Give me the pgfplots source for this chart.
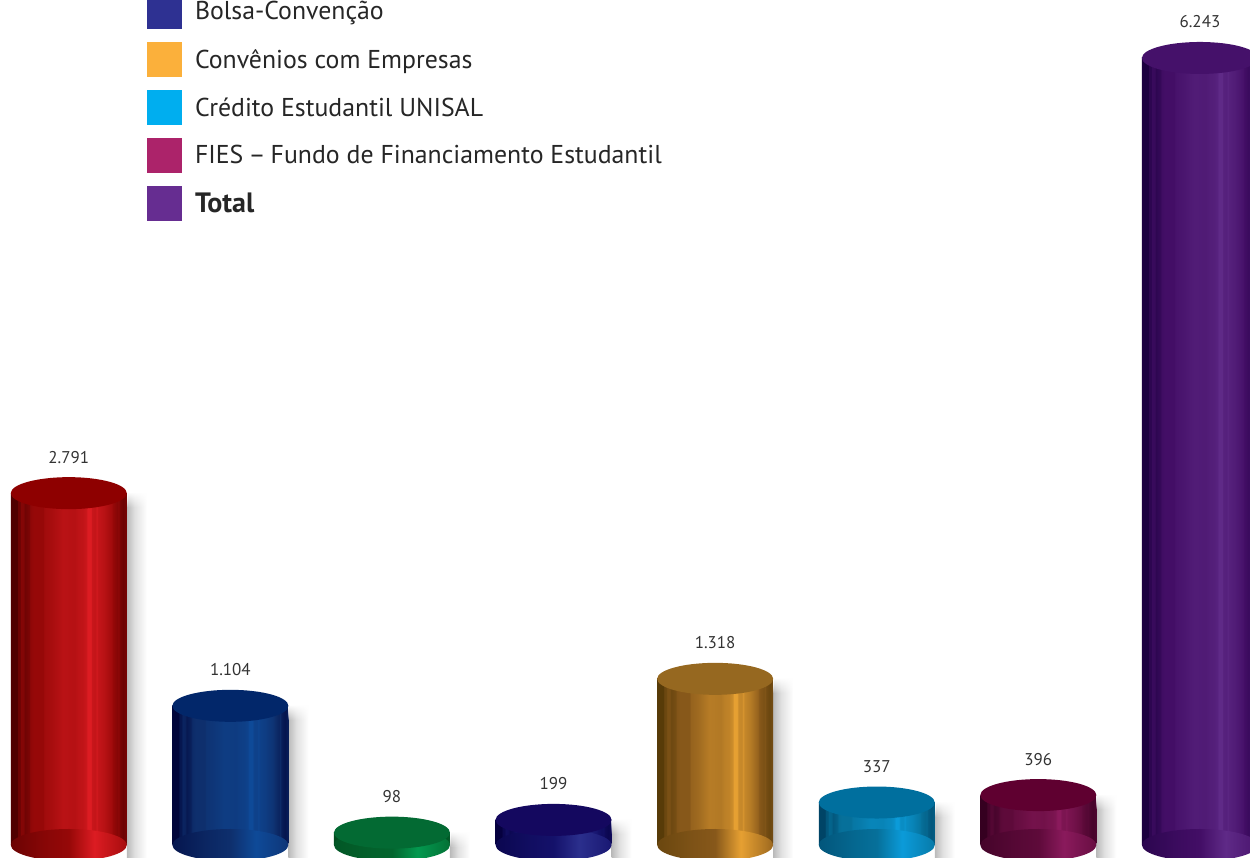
\documentclass[border=0pt]{standalone}
\usepackage{fontspec}
\setmainfont{PT Sans}
\usepackage{pgfplots}
\usetikzlibrary{fadings}
\pgfplotsset{compat=1.18}

% one shading family per cylinder: streaked side, smooth base, flat top
\newcommand{\cylfamily}[5]{%
  \definecolor{#1T}{HTML}{#2}\definecolor{#1D}{HTML}{#3}\definecolor{#1M}{HTML}{#4}\definecolor{#1B}{HTML}{#5}%
  \pgfdeclarehorizontalshading{#1body}{100bp}{
    color(0bp)=(#1D); color(25bp)=(#1D); color(27.7bp)=(#1D);
    color(28bp)=(#1D!60!#1M); color(29bp)=(#1D!55!#1M); color(29.3bp)=(#1D!25!#1M); color(30.5bp)=(#1D!30!#1M);
    color(31bp)=(#1D!55!#1M); color(33bp)=(#1D!35!#1M); color(33.4bp)=(#1D!10!#1M);
    color(35bp)=(#1M); color(39bp)=(#1M); color(39.4bp)=(#1M!85!#1B); color(42.5bp)=(#1M!75!#1B);
    color(47.5bp)=(#1M!50!#1B); color(52.5bp)=(#1M!55!#1B); color(54bp)=(#1M!45!#1B); color(56bp)=(#1M!40!#1B);
    color(57.6bp)=(#1M!25!#1B); color(58bp)=(#1B); color(59.5bp)=(#1B); color(60bp)=(#1M!30!#1B); color(61.5bp)=(#1M!35!#1B);
    color(62bp)=(#1M!15!#1B); color(62.6bp)=(#1M!35!#1B);
    color(65bp)=(#1M!50!#1B); color(68.5bp)=(#1M!85!#1B); color(69bp)=(#1M); color(71bp)=(#1M!75!#1D);
    color(71.4bp)=(#1M!90!#1D); color(72bp)=(#1M!60!#1D);
    color(73.5bp)=(#1D!60!#1M); color(75bp)=(#1D!40!#1M); color(100bp)=(#1D!40!#1M)}%
  \pgfdeclarehorizontalshading{#1base}{100bp}{
    color(0bp)=(#1D!60!#1M); color(25bp)=(#1D!60!#1M); color(40bp)=(#1M!80!#1D);
    color(50bp)=(#1M); color(61bp)=(#1B); color(72bp)=(#1M!60!#1B); color(75bp)=(#1M!80!#1B); color(100bp)=(#1M!80!#1B)}%
  \pgfdeclareplotmark{#1basemark}{%
    \pgfpathellipse{\pgfpointorigin}{\pgfqpoint{58pt}{0pt}}{\pgfqpoint{0pt}{16pt}}%
    \pgfshadepath{#1base}{0}\pgfusepath{discard}}%
}
\cylfamily{red}{8E0000}{500000}{960808}{DC1C22}
\cylfamily{blu}{02276A}{00053A}{0E2F6D}{0E4A98}
\cylfamily{grn}{036A33}{024D20}{03652E}{03994F}
\cylfamily{nav}{14085F}{05003F}{14116A}{2B2F8D}
\cylfamily{gld}{966820}{573B08}{87581A}{E6A032}
\cylfamily{cyn}{006F9E}{004466}{06709A}{0B9BD9}
\cylfamily{mag}{5F0030}{350020}{5E0A3A}{8A1A5C}
\cylfamily{pur}{45116A}{1C0040}{430E66}{5F2A87}

\pgfdeclarehorizontalshading{cylshadow}{100bp}{
  color(0bp)=(black!27); color(25bp)=(black!27); color(45bp)=(black!12); color(75bp)=(white); color(100bp)=(white)}
\pgfdeclareplotmark{cyltop}{%
  \pgfpathellipse{\pgfpointorigin}{\pgfqpoint{58pt}{0pt}}{\pgfqpoint{0pt}{16pt}}\pgfusepathqfill}
% soft upper end of the drop shadow, and its part below the base line
\pgfdeclareplotmark{shadowcap}{\fill[white,path fading=south] (58pt,1pt) rectangle (80pt,-14pt);}
\pgfdeclareplotmark{shadowfoot}{%
  \pgfpathrectangle{\pgfqpoint{58pt}{-20pt}}{\pgfqpoint{20pt}{21pt}}%
  \pgfshadepath{cylshadow}{0}\pgfusepath{discard}}

\newcommand{\cylinder}[3]{%
  \addplot[forget plot,ybar,bar width=20pt,bar shift=68pt,draw=none,shading=cylshadow] coordinates {(#2,#3)};
  \addplot[forget plot,only marks,mark=shadowfoot] coordinates {(#2,0)};
  \addplot[forget plot,only marks,mark=shadowcap] coordinates {(#2,#3)};
  \addplot[forget plot,ybar,bar width=116pt,bar shift=0pt,draw=none,shading=#1body] coordinates {(#2,#3)};
  \addplot[forget plot,only marks,mark=#1basemark] coordinates {(#2,0)};
  \addplot[forget plot,only marks,mark=cyltop,mark options={draw=none,fill=#1T},
    nodes near coords,
    every node near coord/.append style={anchor=center,yshift=36pt,font=\fontsize{17}{19}\selectfont,text=black!80}]
    coordinates {(#2,#3)};
}

\begin{document}
\begin{tikzpicture}
\clip[use as bounding box] (0,0) rectangle (1250pt,858pt);
\begin{axis}[
  at={(0,0)}, anchor=south west,
  scale only axis, width=1250pt, height=858pt,
  hide axis, clip=false,
  xmin=-0.4257, xmax=7.3096,
  ymin=-103.1, ymax=6703,
  /pgf/number format/.cd, 1000 sep={.}, assume math mode=true, /pgfplots/.cd,
  legend cell align=left,
  legend image code/.code={\fill[#1,draw=none] (0pt,-17.5pt) rectangle (35pt,17.5pt);},
  legend style={
    at={(147pt,864pt)}, anchor=north west, draw=none, fill=none,
    inner sep=0pt, outer sep=0pt, row sep=13pt,
    font=\fontsize{25.8}{30}\selectfont, text=black!85,
    nodes={inner sep=0pt},
    /tikz/every odd column/.append style={column sep=13pt},
  },
]
\cylinder{red}{0}{2791}
\cylinder{blu}{1}{1104}
\cylinder{grn}{2}{98}
\cylinder{nav}{3}{199}
\cylinder{gld}{4}{1318}
\cylinder{cyn}{5}{337}
\cylinder{mag}{6}{396}
\cylinder{pur}{7}{6243}

\addlegendimage{fill={rgb,255:red,46;green,49;blue,146}}
\addlegendentry{Bolsa-Convenção}
\addlegendimage{fill={rgb,255:red,251;green,176;blue,59}}
\addlegendentry{Convênios com Empresas}
\addlegendimage{fill={rgb,255:red,0;green,174;blue,239}}
\addlegendentry{Crédito Estudantil UNISAL}
\addlegendimage{fill={rgb,255:red,172;green,35;blue,106}}
\addlegendentry{FIES\kern-1.5pt\ –\ \kern-2pt Fundo de Financiamento Estudantil}
\addlegendimage{fill={rgb,255:red,102;green,45;blue,145}}
\addlegendentry{\fontsize{28}{30}\selectfont\textbf{Total}}
\end{axis}
\end{tikzpicture}
\end{document}
